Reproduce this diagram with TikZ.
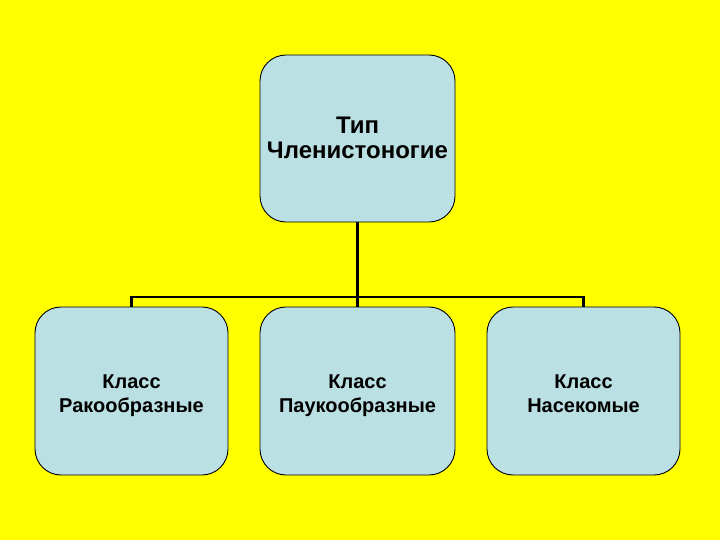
\documentclass[tikz,border=0pt]{standalone}
\usepackage{fontspec}
\setmainfont{Liberation Sans}
\usetikzlibrary{positioning}
\definecolor{bgyellow}{RGB}{255,255,0}
\definecolor{boxblue}{RGB}{187,224,227}
% two centred lines, first baseline pulled to a fixed place
\newcommand{\twolines}[3]{\rule{0pt}{#1}#2\\#3\rule[-6pt]{0pt}{0pt}}

\begin{document}
\begin{tikzpicture}[x=1pt,y=-1pt,
  box/.style={draw=black,line width=0.9pt,rounded corners=26pt,fill=boxblue,inner sep=0pt,align=center,font=\fontsize{20}{24}\selectfont\bfseries},
  conn/.style={line width=2.4pt,black}]
\fill[bgyellow] (0,0) rectangle (720,540);
\useasboundingbox (0,0) rectangle (720,540);
\node[box,minimum width=195pt,minimum height=167pt,font=\fontsize{24}{24.5}\selectfont\bfseries] (phylum) at (357.5,138.5) {\twolines{21pt}{Тип}{Членистоногие}};
\node[box,minimum width=193pt,minimum height=168pt] (crust) at (131.5,391) {\twolines{24pt}{Класс}{Ракообразные}};
\node[box,minimum width=195pt,minimum height=168pt] (arach) at (357.5,391) {\twolines{24pt}{Класс}{Паукообразные}};
\node[box,minimum width=193pt,minimum height=168pt] (insect) at (583.5,391) {\twolines{24pt}{Класс}{Насекомые}};
\coordinate (bus) at (357.5,297);
\draw[conn] (phylum.south) -- (arach.north);
\draw[conn] (crust.north) |- (bus) -| (insect.north);
\end{tikzpicture}
\end{document}
